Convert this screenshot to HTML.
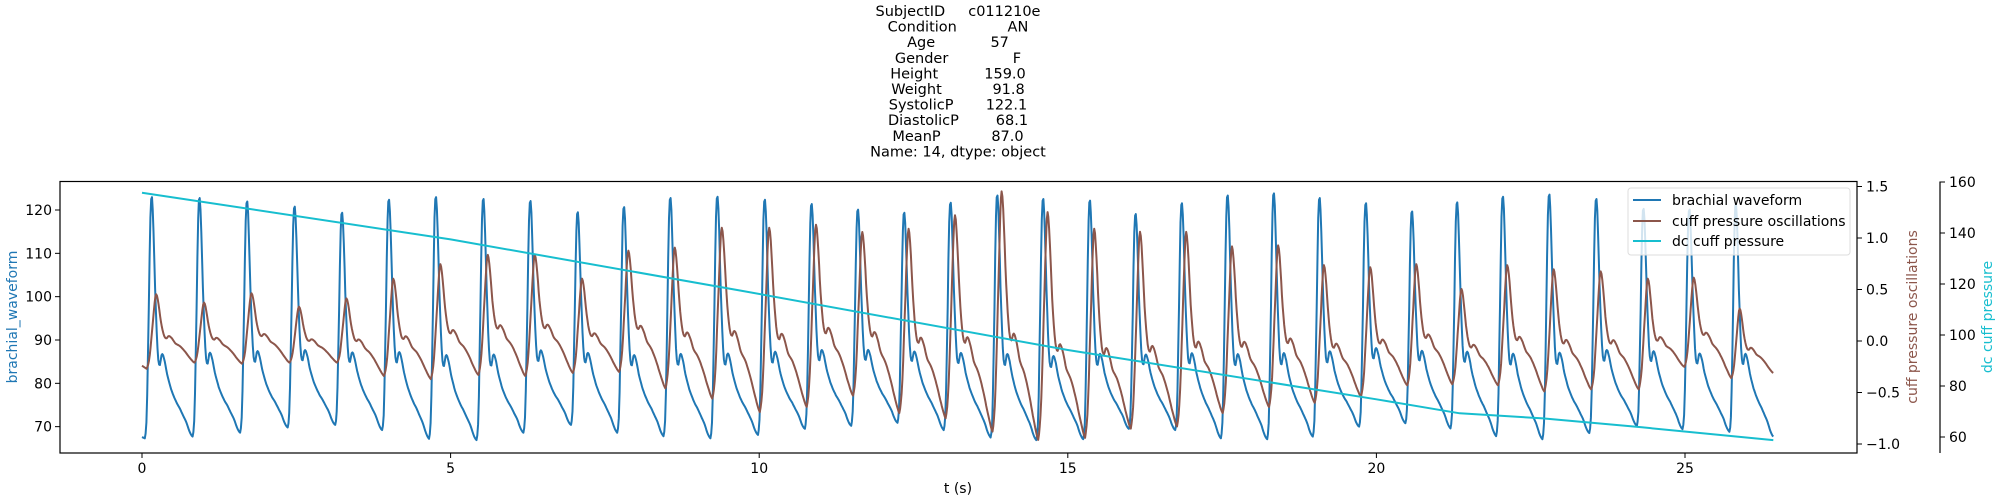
<!DOCTYPE html>
<html><head><meta charset="utf-8">
<style>
html,body{margin:0;padding:0;background:#fff;}
svg{display:block;font-family:"DejaVu Sans","Liberation Sans",sans-serif;}
</style></head>
<body>
<svg id="chart" width="2000" height="500" viewBox="0 0 2000 500" xmlns="http://www.w3.org/2000/svg">
<g id="title" font-size="14.5" text-anchor="middle" fill="#000"></g>
<defs><clipPath id="clip"><rect x="60" y="181" width="1797" height="272"/></clipPath></defs>
<g id="marks" clip-path="url(#clip)"></g>
<rect x="60" y="181.5" width="1797" height="271.5" fill="none" stroke="#000" stroke-width="1.2"/>
<line x1="1940" y1="181.5" x2="1940" y2="453" stroke="#000" stroke-width="1.2"/>
<g id="axes" font-size="14" fill="#000"></g>
<text x="958" y="493" font-size="14" text-anchor="middle">t (s)</text>
<text transform="translate(17,317) rotate(-90)" font-size="14" text-anchor="middle" fill="#1f77b4">brachial_waveform</text>
<text transform="translate(1917,317) rotate(-90)" font-size="14" text-anchor="middle" fill="#8c564b">cuff pressure oscillations</text>
<text transform="translate(1992,317) rotate(-90)" font-size="14" text-anchor="middle" fill="#17becf">dc cuff pressure</text>
<g>
<rect x="1628" y="188" width="222" height="67" rx="3" fill="#fff" fill-opacity="0.8" stroke="#ddd"/>
<line x1="1633" y1="200" x2="1661" y2="200" stroke="#1f77b4" stroke-width="2"/>
<text x="1672" y="205" font-size="14">brachial waveform</text>
<line x1="1633" y1="221" x2="1661" y2="221" stroke="#8c564b" stroke-width="2"/>
<text x="1672" y="226" font-size="14">cuff pressure oscillations</text>
<line x1="1633" y1="241" x2="1661" y2="241" stroke="#17becf" stroke-width="2"/>
<text x="1672" y="246" font-size="14">dc cuff pressure</text>
</g>
</svg>
<script>
const titleLines = ["SubjectID     c011210e","Condition           AN","Age            57","Gender              F","Height          159.0","Weight           91.8","SystolicP       122.1","DiastolicP        68.1","MeanP           87.0","Name: 14, dtype: object"];
const peakTimes = [0.155,0.93,1.70,2.47,3.24,4.0,4.76,5.53,6.29,7.06,7.81,8.56,9.32,10.09,10.85,11.6,12.35,13.1,13.86,14.6,15.36,16.1,16.85,17.59,18.34,19.08,19.83,20.58,21.31,22.05,22.8,23.56,24.33,25.07,25.83];
const brachialPeaks = [123.1,122.9,122.1,120.9,119.5,122.5,123.1,122.7,122.2,119.6,120.8,122.9,123.2,122.5,121.5,120.2,119.5,121.8,123.5,122.7,122.3,119.2,121.7,123.5,124,122.9,121.7,119.8,121.9,123.2,123.7,122.7,120.4,120.2,121.5];
const brachialTroughs = [67.3,67.7,68.6,69.8,70.4,69.2,67.2,66.9,68.6,70.4,68.6,67.8,67.3,68.1,69.5,70.2,70.9,69.2,67.5,66.9,67.1,69.5,69.2,67.3,67.1,67.7,70,70.8,69.6,67.8,67.1,68.5,70.2,69.4,68.8];
const cuffPeaks = [0.45,0.37,0.46,0.33,0.41,0.6,0.74,0.83,0.83,0.6,0.87,0.90,1.09,1.09,1.12,1.05,1.08,1.21,1.44,1.24,1.08,1.05,1.05,0.91,0.92,0.73,0.71,0.74,0.50,0.73,0.69,0.67,0.60,0.61,0.31];
const cuffTroughs = [-0.27,-0.21,-0.22,-0.21,-0.21,-0.34,-0.37,-0.33,-0.34,-0.31,-0.30,-0.46,-0.56,-0.69,-0.64,-0.53,-0.70,-0.75,-0.88,-0.96,-0.94,-0.85,-0.83,-0.70,-0.64,-0.60,-0.54,-0.43,-0.42,-0.43,-0.49,-0.47,-0.47,-0.25,-0.36];
const endTime = 26.43, brachialEnd = 67.7, cuffEnd = -0.31;
const dcTimes = [0,5,9.7,15,20,21.35,22.7,24.3,26.43];
const dcValues = [155.8,137.5,117.4,94.1,74.8,69.3,67.3,63.8,58.8];
const xTicks = [0,5,10,15,20,25];
const leftTicks = [70,80,90,100,110,120];
const cuffTicks = [-1.0,-0.5,0.0,0.5,1.0,1.5];
const dcTicks = [60,80,100,120,140,160];

const X = t => 142 + 61.72*t;
const YL = v => 210 + (120 - v)*4.333;
const YC = v => 341 - 103*v;
const YD = v => 182 + (160 - v)*2.55;
const NS = "http://www.w3.org/2000/svg";
function mk(tag, attrs, parent){const e=document.createElementNS(NS,tag);for(const k in attrs)e.setAttribute(k,attrs[k]);parent.appendChild(e);return e;}

const tg=document.getElementById('title');
titleLines.forEach((s,i)=>{const t=mk('text',{x:958,y:16+i*15.6},tg);t.setAttribute('xml:space','preserve');t.style.whiteSpace='pre';t.textContent=s;});

const blueTpl=[[0,0],[0.04,0.1],[0.08,0.5],[0.115,0.9],[0.145,1],[0.175,0.9],[0.22,0.6],[0.27,0.36],[0.31,0.3],[0.355,0.345],[0.40,0.33],[0.47,0.26],[0.55,0.2],[0.65,0.15],[0.73,0.12],[0.8,0.09],[0.87,0.06],[0.94,0.02],[1,0]];
const cuffTpl=[[0,0],[0.06,0.15],[0.12,0.55],[0.18,0.95],[0.205,1],[0.24,0.9],[0.3,0.62],[0.36,0.44],[0.41,0.39],[0.46,0.42],[0.52,0.39],[0.6,0.31],[0.7,0.26],[0.8,0.18],[0.9,0.08],[1,0]];
function cr(tpl,u){let i=0;while(i<tpl.length-2&&tpl[i+1][0]<u)i++;
 const p0=tpl[Math.max(0,i-1)],p1=tpl[i],p2=tpl[i+1],p3=tpl[Math.min(tpl.length-1,i+2)];
 const s=(u-p1[0])/(p2[0]-p1[0]);const m1=(p2[1]-p0[1])/2,m2=(p3[1]-p1[1])/2;
 const s2=s*s,s3=s2*s;return (2*s3-3*s2+1)*p1[1]+(s3-2*s2+s)*m1+(-2*s3+3*s2)*p2[1]+(s3-s2)*m2;}
function series(peaks,troughs,endV,tpl,yf,lag){
 const tt=peakTimes.map(t=>Math.max(0,t-0.11+lag)); tt.push(endTime); const tv=troughs.concat([endV]);
 let pts=[];
 for(let i=0;i<peaks.length;i++){
  const a=tt[i],b=tt[i+1];const n=60;
  for(let k=0;k<n;k++){const u=k/n;const base=tv[i]+(tv[i+1]-tv[i])*u;const f=cr(tpl,u);
   const v=base+f*(peaks[i]-base);pts.push(X(a+(b-a)*u).toFixed(1)+','+yf(v).toFixed(1));}
 }
 pts.push(X(endTime).toFixed(1)+','+yf(endV).toFixed(1));
 return 'M'+pts.join('L');
}
const marks=document.getElementById('marks');
const pb=mk('path',{d:'M'+X(0)+','+YL(brachialTroughs[0]+0.3)+'L'+series(brachialPeaks,brachialTroughs,brachialEnd,blueTpl,YL,0).slice(1),fill:'none',stroke:'#1f77b4','stroke-width':2,'stroke-linejoin':'round'},marks);


const pc=mk('path',{d:'M'+X(0)+','+YC(cuffTroughs[0]+0.03)+'L'+series(cuffPeaks,cuffTroughs,cuffEnd,cuffTpl,YC,0.03).slice(1),fill:'none',stroke:'#8c564b','stroke-width':2,'stroke-linejoin':'round'},marks);


const pd=mk('path',{d:'M'+dcTimes.map((t,i)=>X(t).toFixed(1)+','+YD(dcValues[i]).toFixed(1)).join('L'),fill:'none',stroke:'#17becf','stroke-width':2},marks);



const ax=document.getElementById('axes');
const fmt=v=>{const s=v.toFixed(1);return v<0?'\u2212'+s.slice(1):s;};
xTicks.forEach(t=>{mk('line',{x1:X(t),y1:453,x2:X(t),y2:458,stroke:'#000'},ax);
 const e=mk('text',{x:X(t),y:473,'text-anchor':'middle'},ax);e.textContent=t;
 
 });
leftTicks.forEach(v=>{mk('line',{x1:55,y1:YL(v),x2:60,y2:YL(v),stroke:'#000'},ax);
 const e=mk('text',{x:52,y:YL(v)+5,'text-anchor':'end'},ax);e.textContent=v;
 
 });
cuffTicks.forEach(v=>{mk('line',{x1:1857,y1:YC(v),x2:1862,y2:YC(v),stroke:'#000'},ax);
 const e=mk('text',{x:1866,y:YC(v)+5},ax);e.textContent=fmt(v);
 
 });
dcTicks.forEach(v=>{mk('line',{x1:1940,y1:YD(v),x2:1945,y2:YD(v),stroke:'#000'},ax);
 const e=mk('text',{x:1949,y:YD(v)+5},ax);e.textContent=v;
 
 });
</script>
</body></html>
